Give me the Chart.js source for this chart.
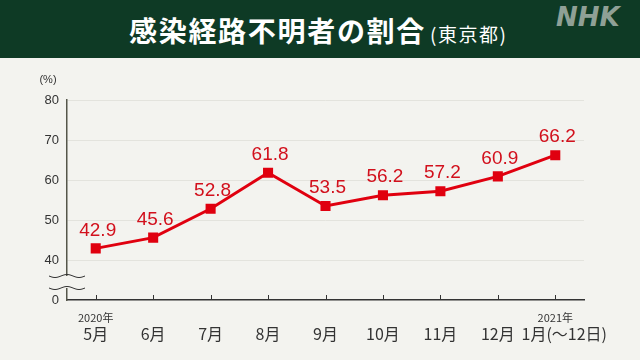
<!DOCTYPE html>
<html>
<head>
<meta charset="utf-8">
<script src="https://cdn.jsdelivr.net/npm/chart.js@4"></script>
<style>
  html, body { margin: 0; padding: 0; background: #f3f3ef; }
  body { width: 640px; height: 360px; overflow: hidden; position: relative; }
  #head {
    position: absolute; left: 0; top: 0; width: 640px; height: 58px;
    background: #0e3a25;
  }
  #title {
    position: absolute; left: 129px; top: 10px; color: #fff;
    font: bold 28px "Noto Sans CJK JP", sans-serif; letter-spacing: 1.7px; white-space: nowrap;
  }
  #title small { font-size: 19px; font-weight: normal; letter-spacing: 1.5px; margin-left: 4px; }
  #logo {
    position: absolute; left: 556px; top: 2px; color: #8fa096;
    font: italic bold 26px "DejaVu Sans", sans-serif;
  }
  #wrap { position: absolute; left: 0; top: 58px; width: 640px; height: 302px; }
</style>
</head>
<body>
<div id="head">
  <div id="title">感染経路不明者の割合<small>(東京都)</small></div>
  <div id="logo">NHK</div>
</div>
<div id="wrap"><canvas id="chart" width="640" height="302"></canvas></div>
<script>
// monthly values (%)
const months = ['5月', '6月', '7月', '8月', '9月', '10月', '11月', '12月', '1月(～12日)'];
const yearLabels = ['2020年', '', '', '', '', '', '', '', '2021年'];
const ratios = [42.9, 45.6, 52.8, 61.8, 53.5, 56.2, 57.2, 60.9, 66.2];
const yTicks = [30, 40, 50, 60, 70, 80]; // 30 is shown as "0" (broken axis)

const red = '#e0000f';
const ink = '#333333';

// labels, ticks and the axis break drawn on top of the scales
const extras = {
    id: 'extras',
    afterDraw(chart) {
        const ctx = chart.ctx;
        const x = chart.scales.x;
        const y = chart.scales.y;
        const meta = chart.getDatasetMeta(0);
        ctx.save();

        // small upward ticks on the x axis
        ctx.strokeStyle = ink;
        ctx.lineWidth = 1;
        months.forEach((m, i) => {
            const px = Math.round(x.getPixelForValue(i)) + 0.5;
            ctx.beginPath();
            ctx.moveTo(px, y.bottom);
            ctx.lineTo(px, y.bottom - 5);
            ctx.stroke();
        });

        // month labels + year labels
        ctx.fillStyle = ink;
        ctx.textAlign = 'center';
        ctx.textBaseline = 'middle';
        months.forEach((m, i) => {
            let px = x.getPixelForValue(i);
            if (i === months.length - 1) px += 9;
            ctx.font = '16px "Noto Sans CJK JP", sans-serif';
            ctx.fillText(m, px, y.bottom + 34);
            if (yearLabels[i]) {
                ctx.font = '11px "Noto Sans CJK JP", sans-serif';
                ctx.fillText(yearLabels[i], x.getPixelForValue(i), y.bottom + 18);
            }
        });

        // unit
        ctx.font = '11px "Liberation Sans", sans-serif';
        ctx.fillText('(%)', 48, y.top - 20);

        // data labels
        ctx.fillStyle = '#d2101c';
        ctx.font = '19px "Liberation Sans", sans-serif';
        meta.data.forEach((pt, i) => {
            ctx.fillText(ratios[i].toFixed(1), pt.x + 2, pt.y - 18);
        });

        // axis break
        const ax = x.left;
        const y1 = y.bottom - 24, y2 = y.bottom - 12;
        ctx.fillStyle = '#f3f3ef';
        ctx.fillRect(ax - 2, y1, 4, y2 - y1);
        ctx.strokeStyle = ink;
        ctx.lineWidth = 1;
        [y1, y2].forEach(yy => {
            ctx.beginPath();
            for (let k = 0; k <= 36; k++) {
                const xx = ax - 18 + k;
                const yw = yy + Math.sin(k / 36 * Math.PI * 3) * 1.5;
                if (k === 0) ctx.moveTo(xx, yw); else ctx.lineTo(xx, yw);
            }
            ctx.stroke();
        });
        ctx.restore();
    }
};

new Chart(document.getElementById('chart'), {
    type: 'line',
    data: {
        labels: months,
        datasets: [{
            data: ratios,
            borderColor: red,
            backgroundColor: red,
            borderWidth: 3,
            pointStyle: 'rect',
            pointRadius: 5,
            pointHoverRadius: 5,
            tension: 0
        }]
    },
    options: {
        responsive: false,
        animation: false,
        devicePixelRatio: 1,
        layout: { padding: { top: 42, right: 56, left: 0, bottom: 0 } },
        plugins: { legend: { display: false }, tooltip: { enabled: false } },
        scales: {
            x: {
                offset: true,
                grid: { display: false, offset: true },
                border: { color: ink, width: 1.5 },
                ticks: { display: false },
                afterFit(scale) { scale.height = 60; }
            },
            y: {
                min: 30,
                max: 80,
                afterBuildTicks(scale) { scale.ticks = yTicks.map(v => ({ value: v })); },
                grid: {
                    color: ctx => ctx.tick && ctx.tick.value === 30 ? 'rgba(0,0,0,0)' : '#e3e3dd',
                    drawTicks: false,
                    lineWidth: 1
                },
                border: { color: '#55564a', width: 1.5 },
                ticks: {
                    color: ink,
                    padding: 8,
                    font: { family: 'Liberation Sans', size: 13 },
                    callback: v => v === 30 ? '0' : v
                },
                afterFit(scale) { scale.width = 67; }
            }
        }
    },
    plugins: [extras]
});
</script>
</body>
</html>
